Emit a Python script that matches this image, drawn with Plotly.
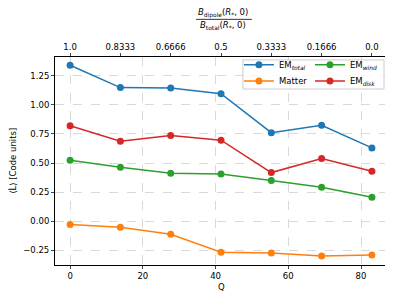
import plotly.graph_objects as go

# Data
Q = [0, 13.83, 27.67, 41.5, 55.33, 69.17, 83]
ratio_labels = ["1.0", "0.8333", "0.6666", "0.5", "0.3333", "0.1666", "0.0"]
em_total = [1.340, 1.148, 1.145, 1.096, 0.761, 0.825, 0.630]
matter = [-0.029, -0.052, -0.112, -0.266, -0.272, -0.298, -0.290]
em_wind = [0.524, 0.464, 0.412, 0.406, 0.349, 0.292, 0.206]
em_disk = [0.821, 0.687, 0.736, 0.696, 0.418, 0.538, 0.430]
x_ticks = [0, 20, 40, 60, 80]
y_ticks = [-0.25, 0.0, 0.25, 0.5, 0.75, 1.0, 1.25]
y_ticklabels = ["\u22120.25", "0.00", "0.25", "0.50", "0.75", "1.00", "1.25"]

FONT = "DejaVu Sans"
FS = 8.5

fig = go.Figure()

def add(y, name, color, legend):
    fig.add_trace(go.Scatter(
        x=Q, y=y, name=name, mode="lines+markers",
        line=dict(color=color, width=1.5),
        marker=dict(color=color, size=7),
        legend=legend,
    ))

add(em_total, "EM<sub><i>total</i></sub>", "#1f77b4", "legend")
add(matter, "Matter", "#ff7f0e", "legend2")
add(em_wind, "EM<sub><i>wind</i></sub>", "#2ca02c", "legend3")
add(em_disk, "EM<sub><i>disk</i></sub>", "#d62728", "legend4")

# invisible trace on top axis
fig.add_trace(go.Scatter(x=Q, y=em_total, xaxis="x2", mode="markers",
                         marker=dict(opacity=0), showlegend=False, hoverinfo="skip"))

xr = [-4.15, 87.15]
yr = [-0.376, 1.411]

def leg(x, y):
    return dict(x=x, y=y, xanchor="left", yanchor="middle", bgcolor="rgba(0,0,0,0)",
                borderwidth=0, font=dict(size=FS), itemwidth=30, tracegroupgap=0)

fig.update_layout(
    width=385, height=291,
    margin=dict(l=47, r=6, t=49, b=34, autoexpand=False),
    plot_bgcolor="white", paper_bgcolor="white",
    font=dict(family=FONT, size=FS, color="black"),
    xaxis=dict(range=xr, tickvals=x_ticks, ticks="outside", ticklen=3, tickwidth=0.8,
               showline=True, linecolor="black", linewidth=1, mirror=True,
               showgrid=True, gridcolor="#d9d9d9", griddash="dash", gridwidth=0.8,
               zeroline=False, automargin=False),
    xaxis2=dict(range=xr, overlaying="x", side="top", anchor="y",
                tickvals=Q, ticktext=ratio_labels, ticks="outside", ticklen=3, tickwidth=0.8,
                showgrid=False, zeroline=False, showline=False, automargin=False),
    yaxis=dict(range=yr, tickvals=y_ticks, ticktext=y_ticklabels, ticks="outside", ticklen=3,
               tickwidth=0.8, showline=True, linecolor="black", linewidth=1, mirror=True,
               showgrid=True, gridcolor="#d9d9d9", griddash="dash", gridwidth=0.8,
               zeroline=False, automargin=False),
    legend=leg(0.554, 0.963),
    legend2=leg(0.554, 0.885),
    legend3=leg(0.768, 0.963),
    legend4=leg(0.768, 0.885),
    showlegend=True,
)

# axis titles
fig.add_annotation(xref="paper", yref="paper", x=0.5, y=-0.105, showarrow=False, text="Q",
                   xanchor="center", yanchor="middle", font=dict(size=FS))
fig.add_annotation(xref="paper", yref="paper", x=-0.127, y=0.5, showarrow=False,
                   text="\u27e8L\u0307\u27e9 [Code units]", textangle=-90,
                   xanchor="center", yanchor="middle", font=dict(size=FS))

# legend frame
fig.add_shape(type="rect", xref="paper", yref="paper", x0=0.566, x1=0.991, y0=0.846, y1=0.986,
              line=dict(color="#cccccc", width=1), fillcolor="rgba(255,255,255,0.8)", layer="above")

# top title as fraction
fig.add_annotation(xref="paper", yref="paper", x=0.506, y=1.213, showarrow=False,
                   text="<i>B</i><sub>dipole</sub>(<i>R</i><sub>*</sub>, 0)",
                   font=dict(size=FS), xanchor="center", yanchor="middle")
fig.add_annotation(xref="paper", yref="paper", x=0.506, y=1.150, showarrow=False,
                   text="<i>B</i><sub>total</sub>(<i>R</i><sub>*</sub>, 0)",
                   font=dict(size=FS), xanchor="center", yanchor="middle")
fig.add_shape(type="line", xref="paper", yref="paper", x0=0.425, x1=0.593, y0=1.181, y1=1.181,
              line=dict(color="black", width=0.8))

fig.write_html("out.html")
